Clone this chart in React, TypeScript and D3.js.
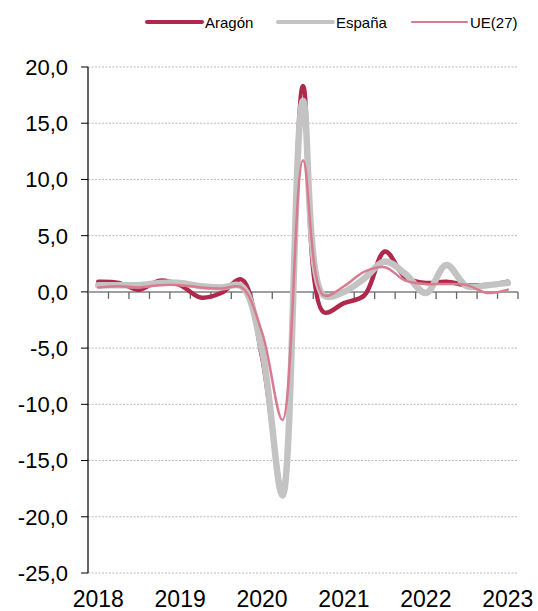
import React from "react";
import * as d3 from "d3";

const quarters = [
  "2018-I", "2018-II", "2018-III", "2018-IV",
  "2019-I", "2019-II", "2019-III", "2019-IV",
  "2020-I", "2020-II", "2020-III", "2020-IV",
  "2021-I", "2021-II", "2021-III", "2021-IV",
  "2022-I", "2022-II", "2022-III", "2022-IV",
  "2023-I",
];
const aragon = [0.9, 0.8, 0.2, 1.0, 0.6, -0.5, -0.1, 1.1, -5.8, -17.4, 18.3, -1.8, -1.0, -0.3, 3.6, 1.3, 0.8, 0.9, 0.6, 0.6, 0.9];
const espana = [0.6, 0.6, 0.6, 0.8, 0.8, 0.5, 0.4, 0.5, -5.2, -18.1, 17.0, -0.3, 0.0, 1.2, 2.7, 1.6, -0.1, 2.4, 0.5, 0.6, 0.8];
const ue27 = [0.4, 0.5, 0.4, 0.6, 0.6, 0.4, 0.3, 0.4, -3.6, -11.4, 11.7, -0.3, 0.5, 1.8, 2.2, 1.0, 0.7, 0.7, 0.6, -0.1, 0.2];
const yTicks = [20, 15, 10, 5, 0, -5, -10, -15, -20, -25];
const yearLabels = ["2018", "2019", "2020", "2021", "2022", "2023"];

const W = 538;
const H = 611;
const FONT = "Arial, 'Liberation Sans', Helvetica, sans-serif";

const series = [
  { name: "Aragón", values: aragon, color: "#b0284b", width: 4.5, legendWidth: 4 },
  { name: "España", values: espana, color: "#c3c3c3", width: 6.5, legendWidth: 4 },
  { name: "UE(27)", values: ue27, color: "#d97b8f", width: 2.5, legendWidth: 2 },
];
const legendX = [147, 278, 412];

export default function App() {
  const x = d3.scaleBand<string>().domain(quarters).range([88, 518]).paddingInner(0).paddingOuter(0);
  const y = d3.scaleLinear().domain([-25, 20]).range([573, 67]);
  const cx = (q: string) => (x(q) as number) + x.bandwidth() / 2;

  const line = d3
    .line<number>()
    .x((_, i) => cx(quarters[i]))
    .y((d) => y(d))
    .curve(d3.curveCatmullRom.alpha(0.5));

  const boundaries = d3.range(quarters.length + 1).map((i) =>
    i < quarters.length ? (x(quarters[i]) as number) : 518
  );

  return (
    <svg
      width={W}
      height={H}
      style={{ position: "absolute", left: 0, top: 0, background: "#fff" }}
      fontFamily={FONT}
    >
      {yTicks
        .filter((t) => t !== 0)
        .map((t) => (
          <line
            key={"g" + t}
            x1={88}
            x2={518}
            y1={y(t)}
            y2={y(t)}
            stroke="#b8b8b8"
            strokeWidth={1}
            strokeDasharray="2,1.5"
          />
        ))}
      <line x1={88} x2={88} y1={y(20)} y2={y(-25)} stroke="#000" strokeWidth={1.2} />
      {yTicks.map((t) => (
        <g key={"yt" + t}>
          <line x1={81} x2={88} y1={y(t)} y2={y(t)} stroke="#000" strokeWidth={1} />
          <text
            x={68}
            y={y(t)}
            dy="0.36em"
            textAnchor="end"
            fontSize={22}
            fill="#000"
          >
            {d3.format(".1f")(t).replace(".", ",").replace("−", "-")}
          </text>
        </g>
      ))}
      <line x1={88} x2={518} y1={y(0)} y2={y(0)} stroke="#7f7f7f" strokeWidth={1.5} />
      {boundaries.slice(1).map((b, i) => (
        <line key={"xt" + i} x1={b} x2={b} y1={y(0)} y2={y(0) + 7} stroke="#666" strokeWidth={1.3} />
      ))}
      {yearLabels.map((yr, i) => (
        <text
          key={yr}
          x={cx(quarters[i * 4])}
          y={607}
          textAnchor="middle"
          fontSize={23}
          fill="#000"
        >
          {yr}
        </text>
      ))}
      {series.map((s) => (
        <path
          key={s.name}
          d={line(s.values) || ""}
          fill="none"
          stroke={s.color}
          strokeWidth={s.width}
          strokeLinejoin="round"
          strokeLinecap="round"
        />
      ))}
      {series.map((s, i) => (
        <g key={"lg" + s.name}>
          <line
            x1={legendX[i]}
            x2={legendX[i] + 55}
            y1={22}
            y2={22}
            stroke={s.color}
            strokeWidth={s.legendWidth}
            strokeLinecap="round"
          />
          <text x={legendX[i] + 58} y={27.5} fontSize={15} fill="#000">
            {s.name}
          </text>
        </g>
      ))}
    </svg>
  );
}
